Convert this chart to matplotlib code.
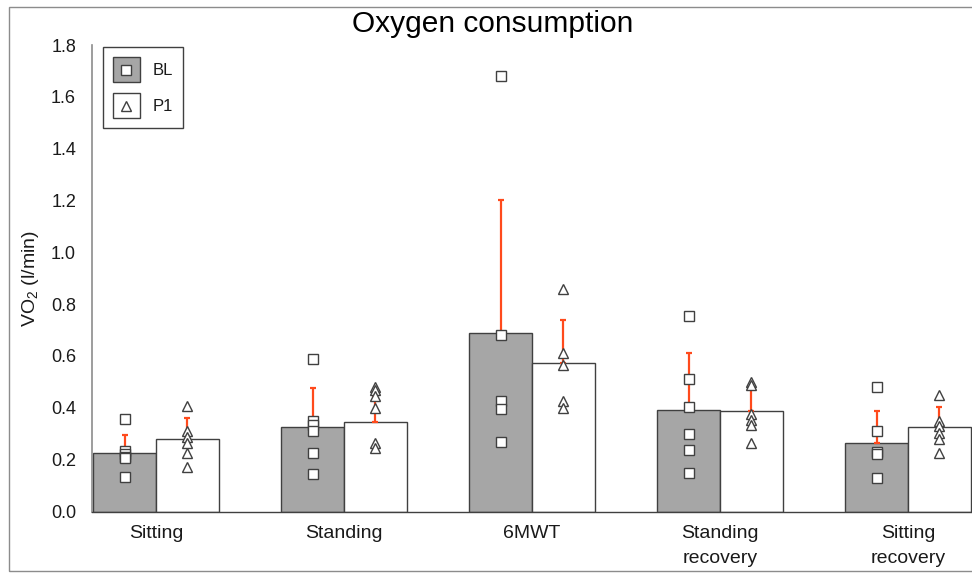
import matplotlib

matplotlib.use("Agg")
import matplotlib.pyplot as plt
import numpy as np
from matplotlib.lines import Line2D
from matplotlib.patches import Rectangle
from matplotlib.legend_handler import HandlerBase

# values (VO2, l/min)
CATEGORIES = ["Sitting", "Standing", "6MWT", "Standing\nrecovery", "Sitting\nrecovery"]
BL_MEAN = [0.227, 0.326, 0.688, 0.391, 0.263]
P1_MEAN = [0.280, 0.346, 0.574, 0.387, 0.326]
BL_SD = [0.068, 0.150, 0.513, 0.219, 0.123]
P1_SD = [0.080, 0.100, 0.163, 0.094, 0.076]
BL_POINTS = [
    [0.355, 0.235, 0.22, 0.21, 0.205, 0.135],
    [0.589, 0.350, 0.335, 0.311, 0.227, 0.145],
    [1.680, 0.680, 0.427, 0.394, 0.269],
    [0.755, 0.511, 0.404, 0.298, 0.238, 0.150],
    [0.481, 0.311, 0.230, 0.220, 0.128],
]
P1_POINTS = [
    [0.407, 0.310, 0.288, 0.265, 0.225, 0.172],
    [0.481, 0.470, 0.445, 0.398, 0.263, 0.245],
    [0.860, 0.610, 0.567, 0.427, 0.398],
    [0.498, 0.490, 0.376, 0.353, 0.333, 0.265],
    [0.448, 0.349, 0.330, 0.304, 0.278, 0.225],
]

TEXT = "#1a1a1a"
EDGE = "#404040"
GREY_BAR = "#a6a6a6"
ERR = "#ff4a1c"
AXIS = "#8c8c8c"


class BoxMarkerHandler(HandlerBase):
    """legend key: filled box with the point marker centred inside"""

    def __init__(self, face, marker, ms):
        super().__init__()
        self.face, self.marker, self.ms = face, marker, ms

    def create_artists(self, legend, orig_handle, xdescent, ydescent,
                       width, height, fontsize, trans):
        box = Rectangle((-xdescent, -ydescent), width, height, fc=self.face,
                        ec=EDGE, lw=1.0, transform=trans)
        cx, cy = -xdescent + width / 2, -ydescent + height / 2
        mk = Line2D([cx], [cy], marker=self.marker, ms=self.ms, mfc="white",
                    mec=EDGE, mew=1.0, ls="none", transform=trans)
        return [box, mk]


plt.rcParams.update({
    "font.family": ["Liberation Sans", "DejaVu Sans"],
    "mathtext.fontset": "custom",
    "mathtext.rm": "Liberation Sans",
    "mathtext.default": "regular",
    "text.color": TEXT,
})

fig = plt.figure(figsize=(9.72, 5.73), dpi=100)
ax = fig.add_axes([92 / 972, 1 - 511.5 / 573, 1 - 92 / 972, (511.5 - 45) / 573])

x = np.arange(len(CATEGORIES))
w = 0.333
xb, xp = x - w / 2, x + w / 2

ax.bar(xb, BL_MEAN, w, color=GREY_BAR, edgecolor=EDGE, lw=1.0, zorder=2)
ax.bar(xp, P1_MEAN, w, color="white", edgecolor=EDGE, lw=1.0, zorder=2)

# upper SD whiskers only
ax.errorbar(xb, BL_MEAN, yerr=[np.zeros(len(x)), BL_SD], fmt="none",
            ecolor=ERR, elinewidth=1.6, capsize=2.2, capthick=1.6, zorder=3)
ax.errorbar(xp, P1_MEAN, yerr=[np.zeros(len(x)), P1_SD], fmt="none",
            ecolor=ERR, elinewidth=1.6, capsize=2.2, capthick=1.6, zorder=3)

for i in range(len(CATEGORIES)):
    ax.plot([xb[i]] * len(BL_POINTS[i]), BL_POINTS[i], "s", ms=6.8,
            mfc="white", mec=EDGE, mew=1.0, ls="none", zorder=4)
    ax.plot([xp[i]] * len(P1_POINTS[i]), P1_POINTS[i], "^", ms=7.2,
            mfc="white", mec=EDGE, mew=1.0, ls="none", zorder=4)

ax.set_xlim(-0.34, 4.34)
ax.set_ylim(0, 1.8)
ax.set_yticks(np.arange(0, 1.81, 0.2))
ax.set_yticklabels([f"{v:.1f}" for v in np.arange(0, 1.81, 0.2)])
ax.set_xticks(x)
ax.set_xticklabels(CATEGORIES, linespacing=1.55)
ax.tick_params(axis="y", length=0, pad=11.5, labelsize=13, labelcolor=TEXT)
ax.tick_params(axis="x", length=0, pad=10, labelsize=14, labelcolor=TEXT)

for s in ("top", "right"):
    ax.spines[s].set_visible(False)
ax.spines["left"].set_color(AXIS)
ax.spines["left"].set_linewidth(1.2)
ax.spines["bottom"].set_color(EDGE)
ax.spines["bottom"].set_linewidth(1.0)

ax.set_ylabel("VO$_2$ (l/min)", fontsize=14, color=TEXT)
ax.yaxis.set_label_coords(-0.058, 0.5)

fig.text(493 / 972, 1 - 24 / 573, "Oxygen consumption", fontsize=21.5,
         ha="center", va="center", color="black")

bl_key, p1_key = object(), object()
leg = fig.legend([bl_key, p1_key], ["BL", "P1"],
                 handler_map={bl_key: BoxMarkerHandler(GREY_BAR, "s", 7.5),
                              p1_key: BoxMarkerHandler("white", "^", 7.8)},
                 loc="upper left", bbox_to_anchor=(103 / 972, 1 - 47 / 573),
                 borderaxespad=0, fancybox=False, fontsize=12,
                 handlelength=1.6, handleheight=1.95, handletextpad=0.75,
                 labelspacing=0.65, borderpad=0.6, framealpha=1)
leg.get_frame().set_edgecolor(EDGE)
leg.get_frame().set_linewidth(1.0)

# outer chart border
fig.patches.append(Rectangle((9 / 972, 1 - 571 / 573), 1.1, (571 - 7) / 573,
                             transform=fig.transFigure, fill=False,
                             ec=AXIS, lw=1.0, clip_on=False))

fig.savefig("out.png", dpi=100)
